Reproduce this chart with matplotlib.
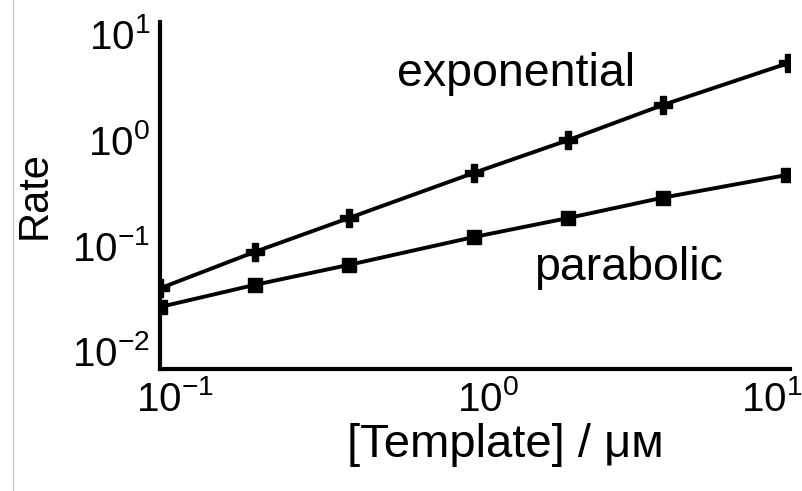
import matplotlib
matplotlib.use("Agg")
import matplotlib.pyplot as plt
import matplotlib.transforms as mtransforms
from matplotlib.lines import Line2D

plt.rcParams['font.family'] = ['Liberation Sans', 'DejaVu Sans']
plt.rcParams['mathtext.default'] = 'regular'

# template concentration (uM) and measured rates
conc = [0.1, 0.2, 0.4, 1, 2, 4, 10]
exponential = [0.039, 0.086, 0.18, 0.48, 0.98, 2.1, 5.2]
parabolic = [0.026, 0.042, 0.065, 0.119, 0.18, 0.28, 0.46]

x_ticks = [0.1, 1, 10]
y_ticks = [0.01, 0.1, 1, 10]


def main():
    fig = plt.figure(figsize=(8.02, 4.91), dpi=100)
    ax = fig.add_axes([0.1995, 0.2485, 0.7855, 0.7065])

    ax.plot(conc, exponential, color='black', lw=2.8, marker='P', ms=13,
            mec='black', mfc='black')
    ax.plot(conc, parabolic, color='black', lw=2.8, marker='s', ms=10,
            mec='black', mfc='black')

    ax.set_xscale('log')
    ax.set_yscale('log')
    ax.set_xlim(0.1, 10.15)
    ax.set_ylim(0.00676, 12.7)
    ax.set_xticks(x_ticks)
    ax.set_yticks(y_ticks)
    ax.minorticks_off()
    ax.tick_params(axis='both', length=0, labelsize=29)
    ax.tick_params(axis='x', pad=8)
    ax.tick_params(axis='y', pad=7)

    # the x tick labels sit a little off their ticks in the original
    shifts = [15, 14, -16]
    for lab, dx in zip(ax.get_xticklabels(), shifts):
        off = mtransforms.ScaledTranslation(dx / 100, 0, fig.dpi_scale_trans)
        lab.set_transform(lab.get_transform() + off)

    for side in ['top', 'right']:
        ax.spines[side].set_visible(False)
    for side in ['left', 'bottom']:
        ax.spines[side].set_linewidth(3)

    ax.set_xlabel('[Template] / μм', fontsize=34)
    ax.xaxis.set_label_coords(0.548, -0.155)
    ax.set_ylabel('Rate', fontsize=30)
    ax.yaxis.set_label_coords(-0.168, 0.5)

    ax.text(0.565, 0.816, 'exponential', transform=ax.transAxes,
            fontsize=33.5, ha='center', va='baseline')
    ax.text(0.744, 0.256, 'parabolic', transform=ax.transAxes,
            fontsize=33.5, ha='center', va='baseline')

    # faint frame line on the left edge of the picture
    fig.add_artist(Line2D([13 / 802, 13 / 802], [0, 1], color='#c8c8c8',
                          lw=1, transform=fig.transFigure))

    fig.savefig('out.png', dpi=100)


if __name__ == "__main__":
    main()
